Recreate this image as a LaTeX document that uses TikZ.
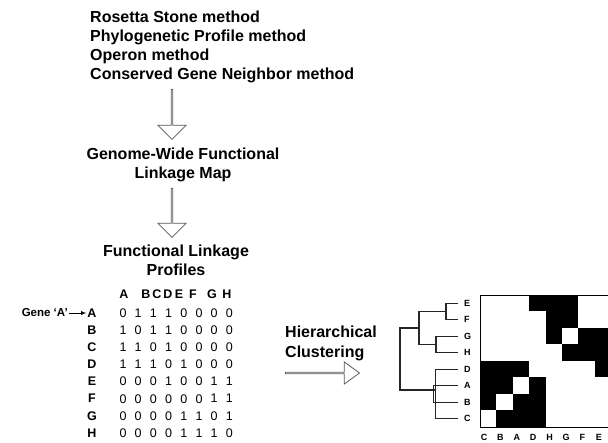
\documentclass[tikz,border=0pt]{standalone}
\usepackage{fontspec}
\setmainfont{Liberation Sans}
\usetikzlibrary{shapes.arrows}
\usetikzlibrary{arrows}

\tikzset{
  heading/.style={font=\fontsize{16}{19}\selectfont\bfseries, inner sep=0pt},
  blockarrow/.style={single arrow, draw=black!65, line width=0.8pt, fill=white, inner sep=0pt, single arrow head indent=0pt},
  rowlab/.style={font=\fontsize{12.5}{14}\selectfont\bfseries, inner sep=1pt},
  entry/.style={font=\fontsize{12.5}{14}\selectfont, inner sep=0pt},
  leaflab/.style={font=\fontsize{9}{10}\selectfont\bfseries, inner sep=0pt},
  tree/.style={line width=1.1pt, black!85},
}

\begin{document}
\begin{tikzpicture}[x=1pt, y=-1pt]
    \useasboundingbox (0,0) rectangle (608,443);
    % methods and the two downward steps
    \foreach \txt [count=\i] in {Rosetta Stone method, Phylogenetic Profile method, Operon method, Conserved Gene Neighbor method}
      \node[heading, anchor=base west] (meth\i) at (90, 3.5+19*\i) {\txt};
    \node[blockarrow, shape border rotate=270, minimum height=50pt, minimum width=28pt, single arrow head extend=8pt] (down1) at (172,114) {};
    \node[heading, align=center] (gwmap) at (183,165) {Genome-Wide Functional\\Linkage Map};
    \node[blockarrow, shape border rotate=270, minimum height=49pt, minimum width=28pt, single arrow head extend=8pt] (down2) at (172,212.5) {};
    \node[heading, align=center] (profiles) at (176,260.5) {Functional Linkage\\Profiles};

    % profile table
    \foreach \lab/\x in {A/124,B/146,C/157,D/168,E/179,F/193,G/212,H/227}
      \node[rowlab] (h\lab) at (\x,294) {\lab};
    \foreach \lab/\vals [count=\i] in {A/{0,1,1,1,0,0,0,0}, B/{1,0,1,1,0,0,0,0}, C/{1,1,0,1,0,0,0,0}, D/{1,1,1,0,1,0,0,0}, E/{0,0,0,1,0,0,1,1}, F/{0,0,0,0,0,0,1,1}, G/{0,0,0,0,1,1,0,1}, H/{0,0,0,0,1,1,1,0}} {
      \node[rowlab] (r\lab) at (92, 295.86+17.14*\i) {\lab};
      \foreach \v [count=\j] in \vals
        \node[entry] (v\lab\j) at (107.8+15.2*\j, 295.86+17.14*\i) {\v};
    }
    \node[font=\fontsize{11.5}{13}\selectfont\bfseries, anchor=east, inner sep=1pt] (gene) at (69,313) {Gene ‘A’};
    \draw[-latex, line width=0.8pt] (gene) -- (rA);

    % clustering step
    \node[heading, anchor=base west] (hier) at (285,338) {Hierarchical};
    \node[heading, anchor=base west] (clust) at (285,357.5) {Clustering};
    \node[blockarrow, minimum height=74pt, minimum width=22pt, single arrow head extend=6pt, single arrow tip angle=72] (right1) at (322,373) {};

    % dendrogram
    \foreach \lab [count=\i] in {E,F,G,H,D,A,B,C}
      \node[leaflab, anchor=west, inner xsep=6pt] (l\lab) at (458, 286.75+16.5*\i) {\lab};
    \coordinate (jEF) at (446,311.5);
    \coordinate (jGH) at (436,344.5);
    \coordinate (jEFGH) at (419,328);
    \coordinate (jAB) at (433.5,394);
    \coordinate (jDC) at (435.5,390);
    \coordinate (jroot) at (400,359);
    \draw[tree] (lE.west) -| (jEF) |- (lF.west);
    \draw[tree] (lG.west) -| (jGH) |- (lH.west);
    \draw[tree] (jEF) -| (jEFGH) |- (jGH);
    \draw[tree] (lD.west) -| (jDC) |- (lC.west);
    \draw[tree] (lA.west) -| (jAB) |- (lB.west);
    \draw[tree] (jEFGH) -| (jroot) |- (jDC);

    % linkage matrix
    \foreach \r/\c in {0/3,0/4,0/5,1/4,1/5,2/4,2/6,2/7,3/5,3/6,3/7,4/0,4/1,4/2,4/7,5/0,5/1,5/3,6/0,6/2,6/3,7/1,7/2,7/3}
      \fill (480+16.4*\c, 295+16.5*\r) rectangle ++(16.4,16.5);
    \draw[line width=0.8pt] (480,295) rectangle (611.2,427);
    \foreach \lab [count=\k] in {C,B,A,D,H,G,F,E}
      \node[leaflab] (c\lab) at (467.6+16.4*\k, 437) {\lab};
\end{tikzpicture}
\end{document}
